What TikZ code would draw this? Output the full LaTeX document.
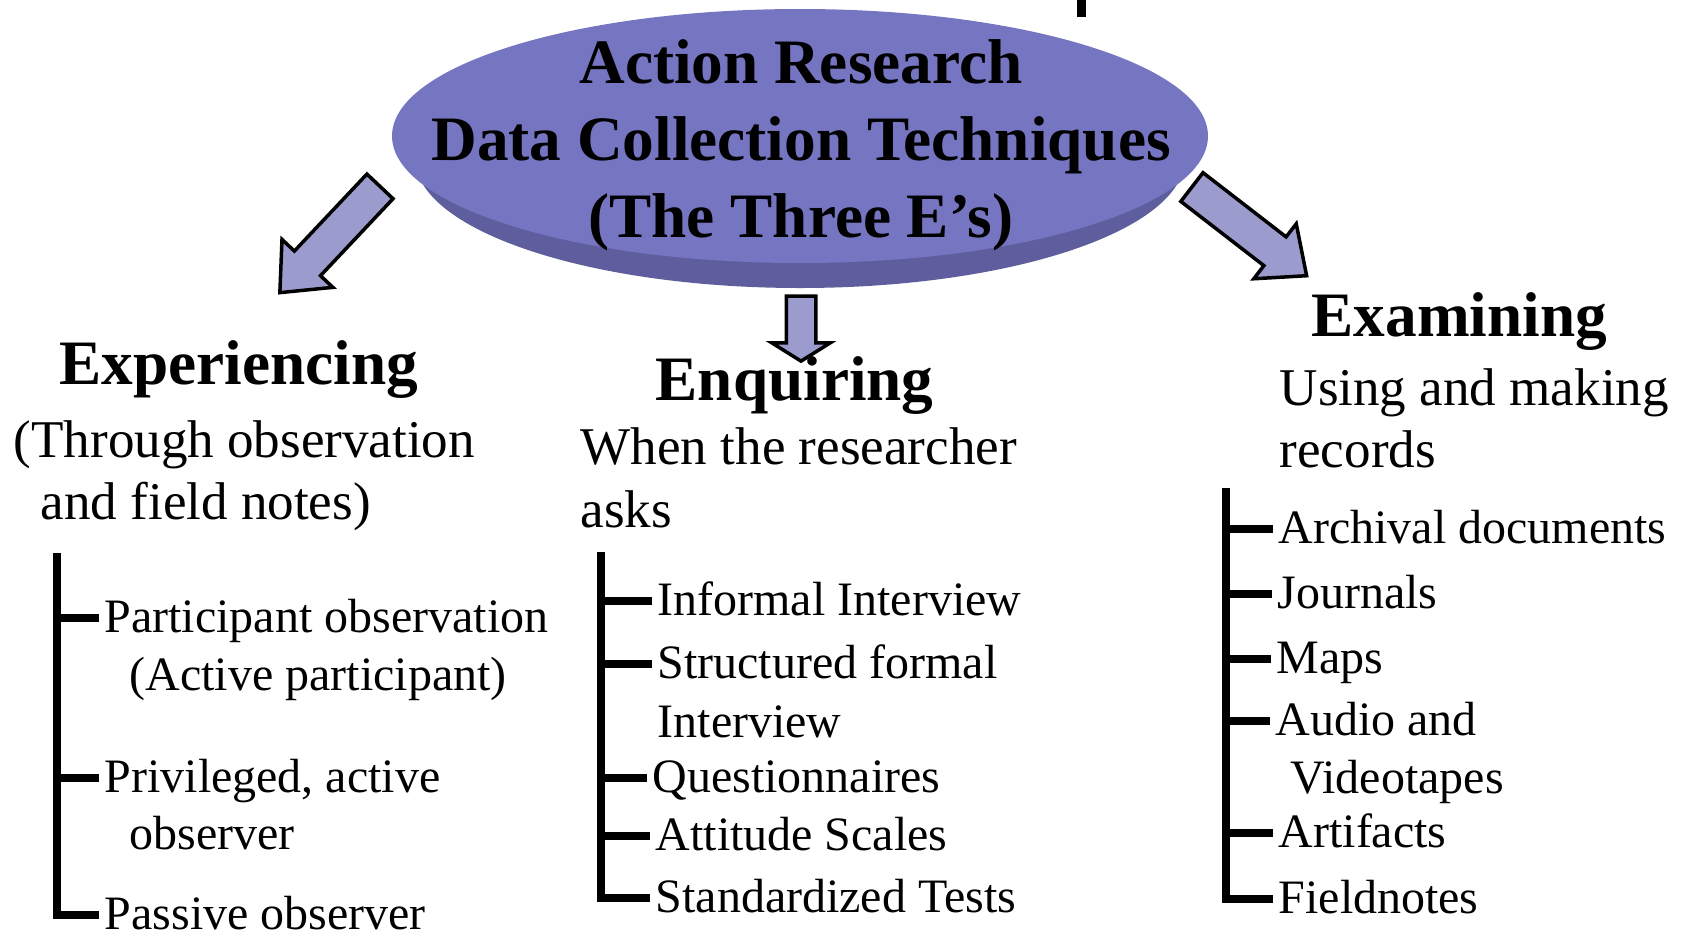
\documentclass[tikz,border=0pt]{standalone}
\usepackage{fontspec}
\setmainfont{Liberation Serif}
\usetikzlibrary{shapes.geometric,shapes.arrows}

\definecolor{discTop}{RGB}{117,117,194}
\definecolor{discRim}{RGB}{94,94,158}
\definecolor{arrowFill}{RGB}{155,155,206}

\tikzset{
  heading/.style={font=\fontsize{18}{22}\selectfont\bfseries, anchor=base west, inner sep=0pt},
  desc/.style={font=\fontsize{15.1}{18}\selectfont, anchor=base west, inner sep=0pt},
  item/.style={font=\fontsize{13.65}{16}\selectfont, anchor=base west, inner sep=0pt,
    text height=2.8mm, text depth=0pt},
  tree/.style={line width=0.75mm, shorten >=0.5mm},
  blockarrow/.style={single arrow, draw=black, line width=0.35mm, fill=arrowFill,
    inner xsep=0pt, text height=0pt, text depth=0pt},
}

\begin{document}
\begin{tikzpicture}[x=0.1mm, y=-0.1mm]
  \useasboundingbox (0,0) rectangle (1685,937);
  \clip (0,0) rectangle (1685,937);
  \fill[white] (0,0) rectangle (1685,937);

  % the disc
  \node[ellipse, fill=discRim, minimum width=77mm, minimum height=26mm, inner sep=0pt] (rim) at (800,158) {};
  \node[ellipse, fill=discTop, minimum width=81.6mm, minimum height=25.4mm, inner sep=0pt] (disc) at (800,136) {};
  \node[font=\fontsize{18}{21.9}\selectfont\bfseries, align=center, inner sep=0pt] (title) at (801,145)
    {Action Research\\Data Collection Techniques\\(The Three E’s)};
  \fill (1077,0) rectangle (1086,17);

  % arrows
  \node[blockarrow, inner ysep=1.62mm, single arrow head extend=1.7mm, single arrow tip angle=82,
    minimum height=14.6mm, rotate=226.7] (arrowL) at (337,232) {};
  \node[blockarrow, inner ysep=1.3mm, single arrow head extend=1.45mm, single arrow tip angle=116,
    minimum height=6.5mm, rotate=-90] (arrowM) at (801,324) {};
  \node[blockarrow, inner ysep=1.64mm, single arrow head extend=1.66mm, single arrow tip angle=82,
    minimum height=14.5mm, rotate=-37.7] (arrowR) at (1241,225) {};

  % Experiencing
  \node[heading] (expHead) at (59,384) {Experiencing};
  \node[desc] (expDesc) at (13,457) {(Through observation};
  \node[desc] (expDescB) at (40,519) {and field notes)};
  \coordinate (expTop) at (57,553);
  \node[item] (exp1) at (104,632) {Participant observation};
  \node[item] (exp1b) at (129,690) {(Active participant)};
  \node[item] (exp2) at (104,792) {Privileged, active};
  \node[item] (exp2b) at (129,849) {observer};
  \node[item] (exp3) at (104,929) {Passive observer};
  \foreach \n in {exp1,exp2,exp3}
    \draw[tree] (expTop) |- (\n.west);

  % Enquiring
  \node[heading] (enqHead) at (655,400) {Enquiring};
  \node[desc] (enqDesc) at (580,464) {When the researcher};
  \node[desc] (enqDescB) at (580,527) {asks};
  \coordinate (enqTop) at (601,552);
  \node[item] (enq1) at (657,615) {Informal Interview};
  \node[item] (enq2) at (657,678) {Structured formal};
  \node[item] (enq2b) at (657,737) {Interview};
  \node[item] (enq3) at (652,792) {Questionnaires};
  \node[item] (enq4) at (655,850) {Attitude Scales};
  \node[item] (enq5) at (655,912) {Standardized Tests};
  \foreach \n in {enq1,enq2,enq3,enq4,enq5}
    \draw[tree] (enqTop) |- (\n.west);

  % Examining
  \node[heading] (exaHead) at (1311,336) {Examining};
  \node[desc] (exaDesc) at (1279,405) {Using and making};
  \node[desc] (exaDescB) at (1279,467) {records};
  \coordinate (exaTop) at (1226,488);
  \node[item] (exa1) at (1278,543) {Archival documents};
  \node[item] (exa2) at (1277,608) {Journals};
  \node[item] (exa3) at (1276,673) {Maps};
  \node[item] (exa4) at (1275,735) {Audio and};
  \node[item] (exa4b) at (1290,793) {Videotapes};
  \node[item] (exa5) at (1278,847) {Artifacts};
  \node[item] (exa6) at (1278,913) {Fieldnotes};
  \foreach \n in {exa1,exa2,exa3,exa4,exa5,exa6}
    \draw[tree] (exaTop) |- (\n.west);
\end{tikzpicture}
\end{document}
